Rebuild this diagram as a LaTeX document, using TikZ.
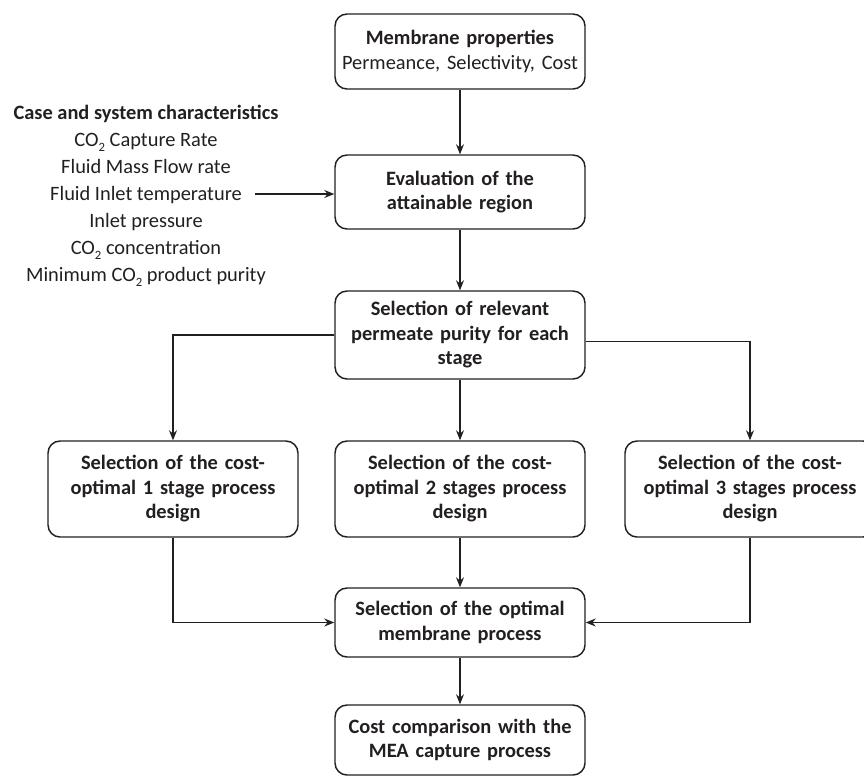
\documentclass[tikz,border=0pt]{standalone}
\usepackage{fontspec}
\setmainfont{Carlito}
\usepackage{tikz}
\usetikzlibrary{positioning,arrows,arrows.meta,calc}
\definecolor{ink}{HTML}{231F20}
\newcommand{\cotwo}{CO\raisebox{-0.5ex}{\fontsize{9.5}{9.5}\selectfont 2}}
\tikzset{
  >=stealth,
  % --- nodes
  box/.style  = {rounded corners=9pt, draw=ink, line width=1.1pt, fill=white,
                 align=center, text=ink, minimum width=187.5pt, text width=178pt,
                 inner sep=0pt, font=\fontsize{15.3}{18.4}\selectfont\bfseries},
  lbl/.style  = {align=center, text=ink, inner sep=0pt,
                 font=\fontsize{15.3}{20.2}\selectfont},
  % --- edges
  e/.style    = {-{Stealth[length=7.5pt,width=6pt,inset=2.5pt]}, line width=0.8pt, draw=ink},
}

\begin{document}
\begin{tikzpicture}[x=0.75pt,y=-0.75pt]
  \useasboundingbox (0,0) rectangle (864,776);
  \node[box,minimum height=56.25pt] (memb) at (460,51.5)
    {Membrane properties\\\mdseries Permeance, Selectivity, Cost};
  \node[box,minimum height=55.5pt] (eval) at (460,192)
    {Evaluation of the\\attainable region};
  \node[box,minimum height=66pt] (purity) at (460,335)
    {Selection of relevant\\permeate purity for each\\stage};
  \node[box,minimum height=72pt] (one) at (173,489)
    {Selection of the cost-\\optimal 1 stage process\\design};
  \node[box,minimum height=72pt] (two) at (460,489)
    {Selection of the cost-\\optimal 2 stages process\\design};
  \node[box,minimum height=72pt] (three) at (750,489)
    {Selection of the cost-\\optimal 3 stages process\\design};
  \node[box,minimum height=51.75pt] (best) at (460,622.5)
    {Selection of the optimal\\membrane process};
  \node[box,minimum height=52.5pt] (mea) at (460,740)
    {Cost comparison with the\\MEA capture process};
  % case data
  \node[lbl] (case) at (146,196)
    {\textbf{Case and system characteristics}\\
     \cotwo{} Capture Rate\\
     Fluid Mass Flow rate\\
     Fluid Inlet temperature\\
     Inlet pressure\\
     \cotwo{} concentration\\
     Minimum \cotwo{} product purity};
  \coordinate (casein) at (255,194);
  \draw[e] (casein) -- (casein -| eval.west);
  \draw[e] (memb) -- (eval);
  \draw[e] (eval) -- (purity);
  \draw[e] (purity.west) -| (one);
  \draw[e] ([yshift=-5pt]purity.east) -| (three);
  \draw[e] (purity) -- (two);
  \draw[e] (one) |- (best);
  \draw[e] (two) -- (best);
  \draw[e] (three) |- (best);
  \draw[e] (best) -- (mea);
\end{tikzpicture}
\end{document}
